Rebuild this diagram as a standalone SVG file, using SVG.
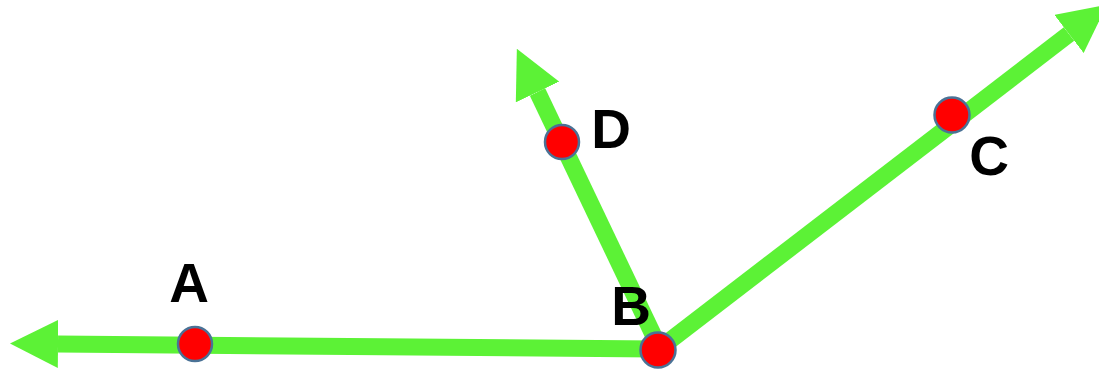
<svg xmlns="http://www.w3.org/2000/svg" width="1099" height="370" viewBox="0 0 1099 370">
<style>
.ray{stroke:#5CF236;stroke-width:17;fill:none;stroke-linecap:butt}
.pt{fill:#FF0000;stroke:#4A7296;stroke-width:2.5}
.lbl{font-family:"Liberation Sans",Arial,sans-serif;font-weight:bold;font-size:55px;fill:#000;text-anchor:middle}
</style>
<defs>
<marker id="ah" markerUnits="userSpaceOnUse" viewBox="0 0 48 48" markerWidth="48" markerHeight="48" refX="0" refY="24" orient="auto">
<path d="M0,0 L48,24 L0,48 z" fill="#5CF236"/>
</marker>
</defs>
<g id="connectors">
<line class="ray" x1="657" y1="349" x2="58" y2="344" marker-end="url(#ah)"/>
<line class="ray" x1="660" y1="349" x2="537.5" y2="92" marker-end="url(#ah)"/>
<line class="ray" x1="655" y1="352" x2="1069" y2="34" marker-end="url(#ah)"/>
</g>
<g id="A"><circle class="pt" cx="195" cy="344" r="17"/><text class="lbl" x="189" y="302">A</text></g>
<g id="B"><circle class="pt" cx="658" cy="350" r="17.5"/><text class="lbl" x="631" y="325">B</text></g>
<g id="D"><circle class="pt" cx="562" cy="142" r="17"/><text class="lbl" x="611" y="148">D</text></g>
<g id="C"><circle class="pt" cx="952" cy="115" r="17.5"/><text class="lbl" x="989" y="175">C</text></g>
</svg>
